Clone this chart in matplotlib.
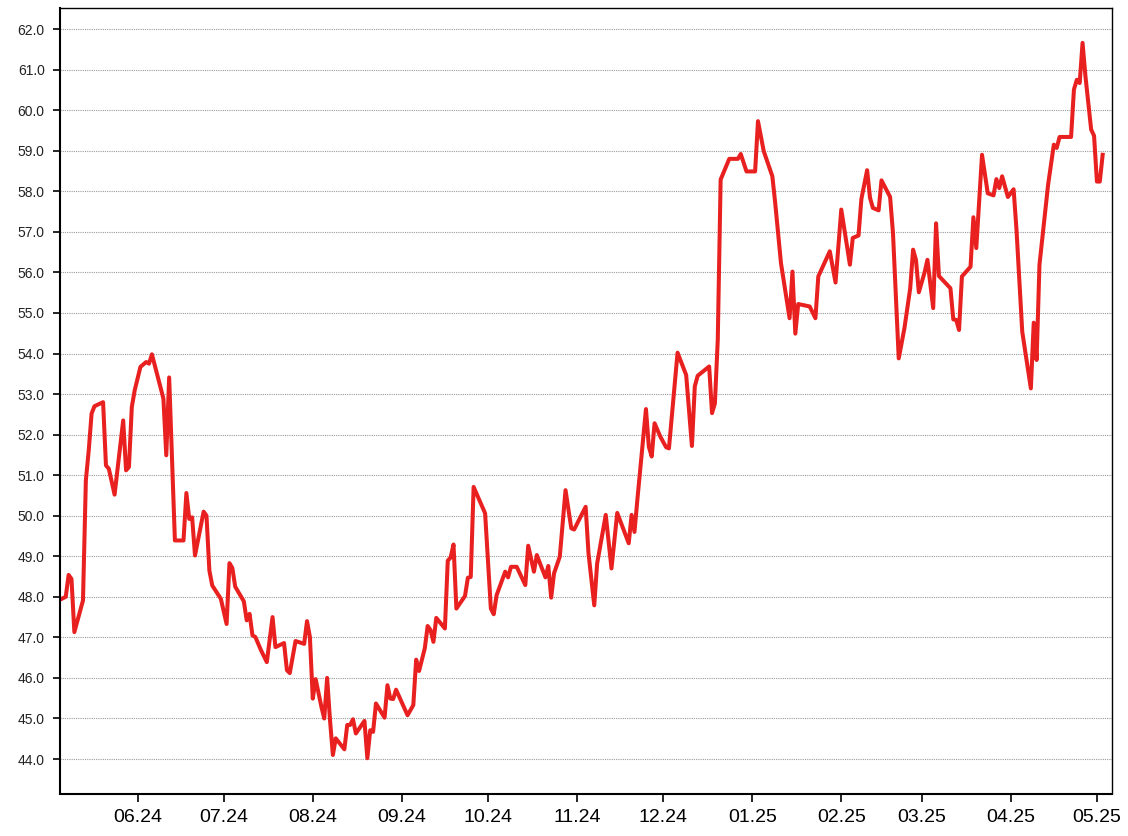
import matplotlib
matplotlib.use("Agg")
import matplotlib.pyplot as plt
import matplotlib.dates as mdates
import pandas as pd
from datetime import datetime

dates = [
    "2024-05-05", "2024-05-07", "2024-05-08", "2024-05-09", "2024-05-10", "2024-05-13",
    "2024-05-14", "2024-05-15", "2024-05-16", "2024-05-17", "2024-05-20", "2024-05-21",
    "2024-05-22", "2024-05-24", "2024-05-27", "2024-05-28", "2024-05-29", "2024-05-30",
    "2024-05-31", "2024-06-02", "2024-06-04", "2024-06-05", "2024-06-06", "2024-06-10",
    "2024-06-11", "2024-06-12", "2024-06-14", "2024-06-17", "2024-06-18", "2024-06-19",
    "2024-06-20", "2024-06-21", "2024-06-24", "2024-06-25", "2024-06-26", "2024-06-27",
    "2024-06-30", "2024-07-02", "2024-07-03", "2024-07-04", "2024-07-05", "2024-07-08",
    "2024-07-09", "2024-07-10", "2024-07-11", "2024-07-12", "2024-07-14", "2024-07-16",
    "2024-07-18", "2024-07-19", "2024-07-22", "2024-07-23", "2024-07-24", "2024-07-26",
    "2024-07-29", "2024-07-30", "2024-07-31", "2024-08-01", "2024-08-02", "2024-08-04",
    "2024-08-05", "2024-08-06", "2024-08-07", "2024-08-08", "2024-08-09", "2024-08-12",
    "2024-08-13", "2024-08-14", "2024-08-15", "2024-08-16", "2024-08-19", "2024-08-20",
    "2024-08-21", "2024-08-22", "2024-08-23", "2024-08-26", "2024-08-27", "2024-08-28",
    "2024-08-29", "2024-08-30", "2024-09-03", "2024-09-05", "2024-09-06", "2024-09-07",
    "2024-09-09", "2024-09-10", "2024-09-11", "2024-09-12", "2024-09-13", "2024-09-16",
    "2024-09-17", "2024-09-18", "2024-09-19", "2024-09-20", "2024-09-23", "2024-09-24",
    "2024-09-25", "2024-09-26", "2024-09-30", "2024-10-02", "2024-10-03", "2024-10-04",
    "2024-10-07", "2024-10-08", "2024-10-09", "2024-10-11", "2024-10-14", "2024-10-15",
    "2024-10-17", "2024-10-18", "2024-10-21", "2024-10-22", "2024-10-23", "2024-10-24",
    "2024-10-26", "2024-10-28", "2024-10-30", "2024-10-31", "2024-11-04", "2024-11-05",
    "2024-11-07", "2024-11-08", "2024-11-11", "2024-11-13", "2024-11-15", "2024-11-19",
    "2024-11-20", "2024-11-21", "2024-11-22", "2024-11-25", "2024-11-26", "2024-11-27",
    "2024-11-28", "2024-11-30", "2024-12-02", "2024-12-03", "2024-12-06", "2024-12-09",
    "2024-12-11", "2024-12-12", "2024-12-13", "2024-12-17", "2024-12-18", "2024-12-19",
    "2024-12-20", "2024-12-21", "2024-12-24", "2024-12-27", "2024-12-28", "2024-12-30",
    "2025-01-02", "2025-01-03", "2025-01-05", "2025-01-08", "2025-01-09", "2025-01-11",
    "2025-01-14", "2025-01-15", "2025-01-16", "2025-01-17", "2025-01-21", "2025-01-23",
    "2025-01-24", "2025-01-28", "2025-01-30", "2025-02-01", "2025-02-04", "2025-02-05",
    "2025-02-07", "2025-02-08", "2025-02-10", "2025-02-11", "2025-02-12", "2025-02-14",
    "2025-02-15", "2025-02-18", "2025-02-19", "2025-02-21", "2025-02-23", "2025-02-25",
    "2025-02-26", "2025-02-27", "2025-02-28", "2025-03-02", "2025-03-03", "2025-03-05",
    "2025-03-06", "2025-03-07", "2025-03-11", "2025-03-12", "2025-03-13", "2025-03-14",
    "2025-03-15", "2025-03-18", "2025-03-19", "2025-03-20", "2025-03-22", "2025-03-24",
    "2025-03-26", "2025-03-27", "2025-03-28", "2025-03-29", "2025-03-31", "2025-04-02",
    "2025-04-03", "2025-04-05", "2025-04-08", "2025-04-09", "2025-04-10", "2025-04-11",
    "2025-04-14", "2025-04-16", "2025-04-17", "2025-04-18", "2025-04-22", "2025-04-23",
    "2025-04-24", "2025-04-25", "2025-04-26", "2025-04-27", "2025-04-29", "2025-04-30",
    "2025-05-01", "2025-05-02", "2025-05-03",
]

values = [
    47.93, 48.00, 48.54, 48.44, 47.13, 47.91,
    50.87, 51.61, 52.52, 52.70, 52.80, 51.24,
    51.16, 50.52, 52.35, 51.12, 51.20, 52.68,
    53.09, 53.67, 53.79, 53.75, 53.98, 52.89,
    51.49, 53.41, 49.39, 49.39, 50.56, 49.92,
    49.96, 49.02, 50.10, 50.00, 48.65, 48.28,
    47.95, 47.33, 48.83, 48.71, 48.25, 47.89,
    47.42, 47.58, 47.05, 47.01, 46.68, 46.39,
    47.50, 46.76, 46.86, 46.19, 46.12, 46.91,
    46.84, 47.40, 47.01, 45.49, 45.97, 45.29,
    45.00, 46.00, 44.96, 44.10, 44.51, 44.24,
    44.84, 44.84, 44.98, 44.63, 44.94, 44.02,
    44.71, 44.67, 45.37, 45.02, 45.82, 45.49,
    45.48, 45.71, 45.08, 45.33, 46.45, 46.17,
    46.73, 47.28, 47.18, 46.89, 47.48, 47.22,
    48.89, 48.97, 49.29, 47.71, 48.02, 48.47,
    48.49, 50.71, 50.06, 47.71, 47.57, 48.04,
    48.62, 48.48, 48.74, 48.74, 48.29, 49.26,
    48.62, 49.03, 48.48, 48.76, 47.98, 48.58,
    48.99, 50.63, 49.69, 49.66, 50.22, 49.07,
    47.79, 48.82, 50.02, 48.70, 50.07, 49.32,
    50.02, 49.60, 50.39, 52.63, 51.70, 51.46,
    52.28, 51.95, 51.69, 51.66, 54.02, 53.47,
    51.72, 53.19, 53.45, 53.68, 52.53, 52.77,
    54.34, 58.29, 58.80, 58.80, 58.92, 58.49,
    58.49, 59.73, 58.99, 58.37, 57.71, 56.23,
    54.87, 56.02, 54.49, 55.22, 55.16, 54.87,
    55.90, 56.52, 55.75, 57.55, 56.19, 56.85,
    56.91, 57.81, 58.52, 57.84, 57.59, 57.53,
    58.27, 57.86, 56.97, 53.88, 54.63, 55.61,
    56.56, 56.31, 55.51, 56.00, 56.31, 55.12,
    57.21, 55.91, 55.61, 54.84, 54.83, 54.58,
    55.90, 56.14, 57.36, 56.60, 58.90, 57.95,
    57.90, 58.30, 58.08, 58.37, 57.86, 58.05,
    57.05, 54.54, 53.14, 54.76, 53.84, 56.19,
    58.16, 59.15, 59.07, 59.34, 59.34, 60.51,
    60.75, 60.67, 61.66, 60.84, 59.52, 59.37,
    58.24, 58.24, 58.90,
]

y_ticks = [44.0 + i for i in range(19)]

plt.rcParams['font.family'] = ['Liberation Sans', 'DejaVu Sans']

fig = plt.figure(figsize=(11.28, 8.36), dpi=100)
ax = fig.add_axes([60 / 1128, (836 - 793.5) / 836, (1112 - 60) / 1128, (793.5 - 8) / 836])

x = pd.to_datetime(dates)
ax.plot(x, values, color='#e8201f', linewidth=2.9, solid_joinstyle='round')

ax.set_xlim(datetime(2024, 5, 5), datetime(2025, 5, 6, 6))
ax.set_ylim(43.15, 62.52)

ax.set_yticks(y_ticks)
ax.yaxis.set_major_formatter(matplotlib.ticker.FormatStrFormatter('%.1f'))
ax.xaxis.set_major_locator(mdates.MonthLocator(bymonthday=1))
ax.xaxis.set_major_formatter(mdates.DateFormatter('%m.%y'))

ax.grid(axis='y', color='#9a9a9a', linestyle=(0, (1, 1)), linewidth=0.8)
ax.grid(axis='x', visible=False)
ax.set_axisbelow(True)

ax.tick_params(axis='y', labelsize=10, length=5, width=1.2, direction='out', pad=6, labelcolor='#222222')
ax.tick_params(axis='x', labelsize=14, length=6, width=1.2, direction='out', pad=5)

for side in ['left', 'bottom']:
    ax.spines[side].set_linewidth(1.5)
for side in ['top', 'right']:
    ax.spines[side].set_linewidth(1.0)

fig.savefig('out.png', dpi=100)
